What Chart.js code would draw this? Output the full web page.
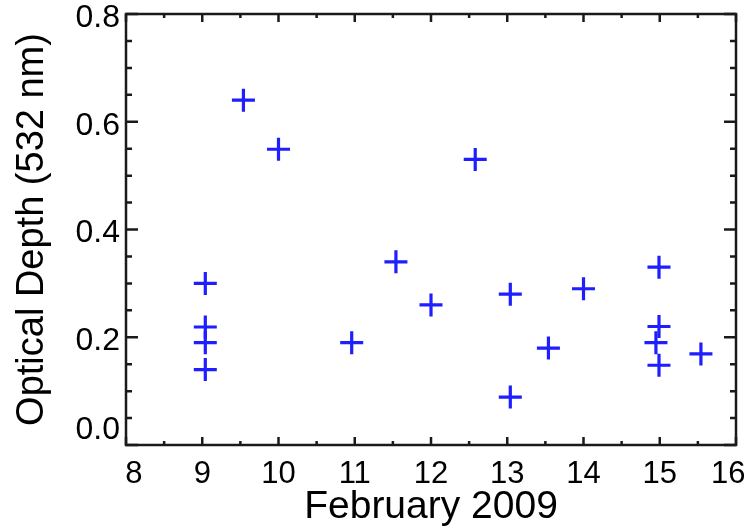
<!DOCTYPE html>
<html>
<head>
<meta charset="utf-8">
<script src="https://cdn.jsdelivr.net/npm/chart.js@4"></script>
<style>
  html, body { margin: 0; padding: 0; background: #fff; }
  #wrap { width: 744px; height: 529px; }
</style>
</head>
<body>
<div id="wrap"><canvas id="odChart" width="744" height="529"></canvas></div>
<script>
'use strict';

// day of February 2009 and 532 nm optical depth for each retrieval
var days = [9.04, 9.04, 9.04, 9.04, 9.54, 10.0, 10.96, 11.54, 12.0, 12.58,
            13.04, 13.04, 13.54, 14.0, 14.99, 14.99, 14.95, 14.99, 15.54];
var depths = [0.30, 0.219, 0.19, 0.14, 0.64, 0.549, 0.19, 0.34, 0.26, 0.53,
              0.28, 0.089, 0.18, 0.29, 0.33, 0.22, 0.19, 0.148, 0.169];

var xTicks = [8, 9, 10, 11, 12, 13, 14, 15, 16];
var yTicks = [0.0, 0.2, 0.4, 0.6, 0.8];

var points = [];
for (var i = 0; i < days.length; i++) {
    points.push({ x: days[i], y: depths[i] });
}

// box around the plot with inward ticks on all four sides
var frameTicks = {
    id: 'frameTicks',
    afterDatasetsDraw: function (chart) {
        var ctx = chart.ctx;
        var a = chart.chartArea;
        var xs = chart.scales.x, ys = chart.scales.y;
        ctx.save();
        ctx.strokeStyle = '#1a1a1a';
        ctx.lineWidth = 2.5;
        ctx.strokeRect(a.left, a.top, a.right - a.left, a.bottom - a.top);
        ctx.beginPath();
        for (var v = 8; v <= 16.001; v += 0.5) {
            var px = xs.getPixelForValue(v);
            var len = (Math.abs(v - Math.round(v)) < 0.01) ? 8 : 4;
            ctx.moveTo(px, a.bottom); ctx.lineTo(px, a.bottom - len);
            ctx.moveTo(px, a.top); ctx.lineTo(px, a.top + len);
        }
        for (var k = 0; k <= 16; k++) {
            var py = ys.getPixelForValue(k * 0.05);
            var l2 = (k % 4 === 0) ? 12 : 6;
            ctx.moveTo(a.left, py); ctx.lineTo(a.left + l2, py);
            ctx.moveTo(a.right, py); ctx.lineTo(a.right - l2, py);
        }
        ctx.stroke();
        ctx.restore();
    }
};

var ctx = document.getElementById('odChart').getContext('2d');
window.odChart = new Chart(ctx, {
    type: 'scatter',
    data: {
        datasets: [{
            data: points,
            pointStyle: 'cross',
            radius: 11.5,
            hoverRadius: 11.5,
            borderWidth: 3.2,
            borderColor: '#1e1eff',
            backgroundColor: '#1e1eff'
        }]
    },
    options: {
        responsive: false,
        animation: false,
        events: [],
        layout: { autoPadding: false, padding: { top: 14, right: 8, left: 0, bottom: 0 } },
        plugins: { legend: { display: false }, tooltip: { enabled: false } },
        scales: {
            x: {
                type: 'linear',
                min: 8, max: 16,
                afterBuildTicks: function (s) {
                    s.ticks = xTicks.map(function (v) { return { value: v }; });
                },
                afterFit: function (s) {
                    s.height = 84;
                    s.paddingLeft = 0;
                    s.paddingRight = 0;
                },
                grid: { display: false, drawTicks: false },
                border: { display: false },
                ticks: {
                    color: '#000',
                    padding: 11,
                    maxRotation: 0,
                    font: { family: 'Liberation Sans, Arial, sans-serif', size: 31 },
                    // nudge the end labels inward so they stay on the canvas
                    callback: function (v) {
                        if (v === 8) return '\u2002' + v;
                        if (v === 16) return v + '\u2002';
                        return String(v);
                    }
                },
                title: {
                    display: true,
                    text: 'February 2009',
                    color: '#000',
                    padding: { top: 0, bottom: 0 },
                    font: { family: 'Liberation Sans, Arial, sans-serif', size: 39, lineHeight: 1.1 }
                }
            },
            y: {
                type: 'linear',
                min: 0, max: 0.8,
                afterBuildTicks: function (s) {
                    s.ticks = yTicks.map(function (v) { return { value: v }; });
                },
                afterFit: function (s) {
                    s.width = 126;
                    s.paddingTop = 0;
                    s.paddingBottom = 0;
                },
                grid: { display: false, drawTicks: false },
                border: { display: false },
                ticks: {
                    color: '#000',
                    padding: 6,
                    labelOffset: 4,
                    font: { family: 'Liberation Sans, Arial, sans-serif', size: 32 },
                    callback: function (v) {
                        var s = Number(v).toFixed(1);
                        // lift the bottom label clear of the x axis labels
                        return v === 0 ? [s, ''] : s;
                    }
                },
                title: {
                    display: true,
                    text: 'Optical Depth (532 nm)',
                    color: '#000',
                    padding: { top: 10, bottom: 0 },
                    font: { family: 'Liberation Sans, Arial, sans-serif', size: 38, lineHeight: 1.2 }
                }
            }
        }
    },
    plugins: [frameTicks]
});
</script>
</body>
</html>
